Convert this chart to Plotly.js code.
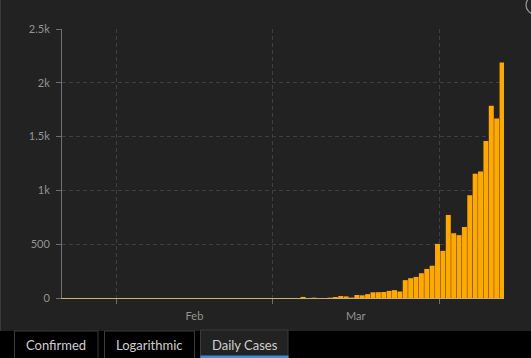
<!DOCTYPE html>
<html>
<head>
<meta charset="utf-8">
<script src="https://cdn.plot.ly/plotly-3.0.1.min.js"></script>
<style>
html,body{margin:0;padding:0;background:#000;}
#chart{width:531px;height:358px;}
</style>
</head>
<body>
<div id="chart"></div>
<script>
// ---- data ----
const startDate = '2020-01-22';            // first day of the daily series
const dailyCases = [
  0,0,0,0,0,0,0,0,0,0,                     // Jan 22 - Jan 31
  0,0,0,0,0,0,0,0,0,0,0,0,0,0,0,0,0,0,0,0,0,0,0,0,0,0,0,0,0, // Feb 1 - Feb 29
  0,0,0,0,0,0,                             // Mar 1 - Mar 6
  10,0,3,0,0,3,9,18,15,4,28,25,36,53,54,56,66,73,60,166,184,196,230,270,300, // Mar 7 - Mar 31
  503,438,772,602,584,660,955,1155,1176,1460,1786,1668,2188                   // Apr 1 - Apr 13
];
const yTickVals = [0, 500, 1000, 1500, 2000, 2500];
const tabLabels = ['Confirmed', 'Logarithmic', 'Daily Cases'];

// build day categories
const dates = [];
{
  const d0 = new Date(startDate + 'T00:00:00Z');
  for (let i = 0; i < dailyCases.length; i++) {
    const d = new Date(d0.getTime() + i * 86400000);
    dates.push(d.toISOString().slice(0, 10));
  }
}

// ---- geometry helpers (pixel -> paper) ----
const W = 531, H = 358;
const M = {l: 62, r: 27, t: 29, b: 60};
const PW = W - M.l - M.r, PH = H - M.t - M.b;
const px = x => (x - M.l) / PW;
const py = y => (H - M.b - y) / PH;

const DAY = 86400000;
const barW = 0.93 * DAY;

const trace = {
  type: 'bar',
  x: dates,
  y: dailyCases,
  width: barW,
  offset: -barW / 2 - 0.3 * DAY,
  marker: {color: '#ffa800', line: {width: 0}},
  hoverinfo: 'skip'
};

const gridColor = '#3f3f3f';
const tickFont = {family: 'Lato, "Open Sans", sans-serif', size: 11, color: '#949494'};

const shapes = [
  // chart panel background
  {type: 'rect', xref: 'paper', yref: 'paper', layer: 'below',
   x0: px(0), x1: px(W), y0: py(331), y1: py(0),
   fillcolor: '#222222', line: {width: 0}},
  // panel left edge
  {type: 'line', xref: 'paper', yref: 'paper', layer: 'below',
   x0: px(0.5), x1: px(0.5), y0: py(331), y1: py(0),
   line: {color: '#3a3a3a', width: 1}},
  // corner icon (partially visible)
  {type: 'circle', xref: 'paper', yref: 'paper',
   x0: px(526), x1: px(544), y0: py(14), y1: py(-4),
   line: {color: '#9a9a9a', width: 1.2}},
  // tabs
  {type: 'rect', xref: 'paper', yref: 'paper',
   x0: px(14.5), x1: px(98), y0: py(358.5), y1: py(331),
   fillcolor: '#000', line: {color: '#3b3b3b', width: 1}},
  {type: 'rect', xref: 'paper', yref: 'paper',
   x0: px(104.5), x1: px(194.5), y0: py(358.5), y1: py(331),
   fillcolor: '#000', line: {color: '#3b3b3b', width: 1}},
  {type: 'rect', xref: 'paper', yref: 'paper',
   x0: px(200.5), x1: px(288), y0: py(358.5), y1: py(330),
   fillcolor: '#222222', line: {color: '#3b3b3b', width: 1}},
  // active tab underline
  {type: 'rect', xref: 'paper', yref: 'paper',
   x0: px(200.5), x1: px(288.5), y0: py(358.5), y1: py(355.5),
   fillcolor: '#2f8fe3', line: {width: 0}}
];

const tabCenters = [56.2, 149.5, 244.5];
const annotations = tabLabels.map((t, i) => ({
  text: t, xref: 'paper', yref: 'paper',
  x: px(tabCenters[i]), y: py(344.5),
  xanchor: 'center', yanchor: 'middle', showarrow: false,
  font: {family: 'Lato, "Open Sans", sans-serif', size: 13, color: '#cfcfcf'}
}));

const layout = {
  width: W, height: H, autosize: false,
  margin: M,
  paper_bgcolor: '#000000',
  plot_bgcolor: 'rgba(0,0,0,0)',
  showlegend: false,
  bargap: 0.07,
  xaxis: {
    type: 'date',
    range: ['2020-01-21 20:40', '2020-04-13 01:30'],
    tickmode: 'linear',
    tick0: '2020-01-01',
    dtick: 'M1',
    ticklabelmode: 'period',
    tickformat: '%b',
    ticks: 'outside', ticklen: 5, tickcolor: '#6e6e6e', tickwidth: 1,
    ticklabelstandoff: 3,
    showgrid: true, gridcolor: gridColor, griddash: '4px,3px', gridwidth: 1,
    showline: true, linecolor: '#c9b27a', linewidth: 1,
    zeroline: false,
    tickfont: tickFont,
    fixedrange: true
  },
  yaxis: {
    range: [0, 2500],
    tickmode: 'array',
    tickvals: yTickVals,
    tickformat: '~s',
    ticks: 'outside', ticklen: 5, tickcolor: '#6e6e6e', tickwidth: 1,
    ticklabelstandoff: 4,
    showgrid: true, gridcolor: gridColor, griddash: '4px,3px', gridwidth: 1,
    showline: true, linecolor: '#707070', linewidth: 1,
    zeroline: false,
    tickfont: tickFont,
    fixedrange: true
  },
  shapes: shapes,
  annotations: annotations
};

Plotly.newPlot('chart', [trace], layout, {displayModeBar: false, staticPlot: true});
</script>
</body>
</html>
